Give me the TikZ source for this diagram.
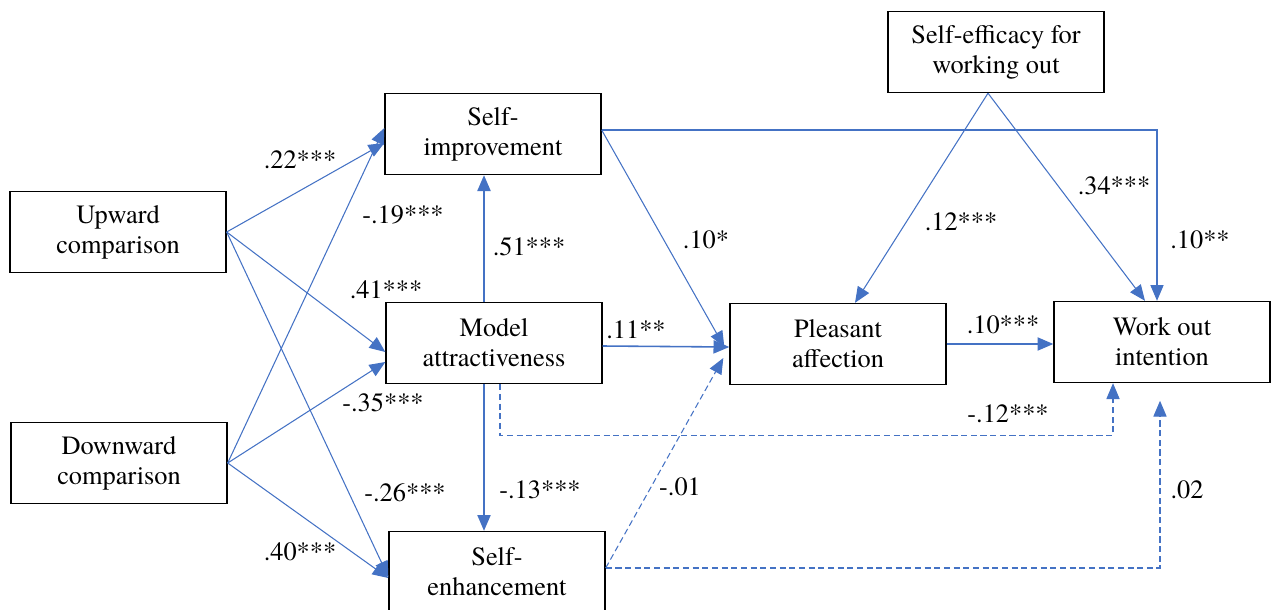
\documentclass[tikz,border=0pt]{standalone}
\usepackage{fontspec}
\setmainfont{TeX Gyre Termes}
\usetikzlibrary{arrows.meta,calc}
\definecolor{pathblue}{HTML}{4472C4}

\begin{document}
\begin{tikzpicture}[x=0.02cm,y=-0.02cm,
  font=\rmfamily\fontsize{15}{17}\selectfont,
  var node/.style={rectangle,draw,line width=0.8pt,minimum width=4.32cm,
    minimum height=1.62cm,align=center,inner sep=2pt},
  link/.style={draw=pathblue,line width=0.6pt,-{Triangle[length=9pt,width=7.5pt]}},
  weak link/.style={link,dash pattern=on 3.5pt off 2pt},
  coef/.style={inner sep=0pt}]

  \useasboundingbox (0,0) rectangle (1271,609);

  % variables
  \node[var node] (up) at (118,232) {Upward\\comparison};
  \node[var node] (down) at (119,463) {Downward\\comparison};
  \node[var node] (simp) at (493,134) {Self-\\improvement};
  \node[var node] (model) at (494,343) {Model\\attractiveness};
  \node[var node] (senh) at (497,572) {Self-\\enhancement};
  \node[var node] (pleas) at (838,344) {Pleasant\\affection};
  \node[var node] (work) at (1162,342) {Work out\\intention};
  \node[var node] (eff) at (996,52) {Self-efficacy for\\working out};

  % paths from the comparisons
  \draw[link] (up.east) -- ($(simp.west)+(0,9)$);
  \draw[link] (up.east) -- ($(model.west)+(0,9)$);
  \draw[link] (up.east) -- ($(senh.west)+(0,5)$);
  \draw[link] (down.east) -- ($(simp.west)+(0,-6)$);
  \draw[link] (down.east) -- ($(model.west)+(0,19)$);
  \draw[link] (down.east) -- ($(senh.west)+(0,6)$);

  % model attractiveness
  \coordinate (mtop) at ($(model.north)+(-10,0)$);
  \coordinate (mbot) at ($(model.south)+(-10,0)$);
  \draw[link,line width=0.9pt] (mtop) -- (mtop |- simp.south);
  \draw[link,line width=0.9pt] (mbot) -- (mbot |- senh.north);
  \draw[link,line width=0.9pt] ($(model.east)+(0,3)$) -- ($(pleas.west)+(0,3)$);
  \draw[weak link] ($(model.south)+(6,0)$) -- ++(0,51) -| ($(work.south)+(-49,0)$);

  % self-improvement and self-enhancement
  \draw[link] ($(simp.east)+(0,-4)$) -- ($(pleas.west)+(-5,3)$);
  \draw[link] ($(simp.east)+(0,-4)$) -| ($(work.north)+(-5,0)$);
  \draw[weak link] ($(senh.east)+(0,-4)$) -- ($(pleas.west)+(-6,14)$);
  \draw[weak link,shorten >=10pt] ($(senh.east)+(0,-4)$) -| ($(work.south)+(-2,0)$);

  % affection, self-efficacy
  \draw[link,line width=0.9pt] (pleas.east) -- (pleas.east -| work.west);
  \draw[link] ($(eff.south)+(-8,0)$) -- ($(pleas.north)+(17,0)$);
  \draw[link] ($(eff.south)+(-8,0)$) -- ($(work.north)+(-17,0)$);

  % coefficients
  \node[coef] (c22) at (300,160) {.22***};
  \node[coef] (c19) at (403,215) {-.19***};
  \node[coef] (c41) at (386,290) {.41***};
  \node[coef] (c51) at (529,247) {.51***};
  \node[coef] (c35) at (383,403) {-.35***};
  \node[coef] (c26) at (405,493) {-.26***};
  \node[coef] (c13) at (540,490) {-.13***};
  \node[coef] (c40) at (300,552) {.40***};
  \node[coef] (c10a) at (706,240) {.10*};
  \node[coef] (c12a) at (961,222) {.12***};
  \node[coef] (c34) at (1114,186) {.34***};
  \node[coef] (c10b) at (1200,240) {.10**};
  \node[coef] (c11) at (636,330) {.11**};
  \node[coef] (c10c) at (1003,325) {.10***};
  \node[coef] (c12b) at (1008,414) {-.12***};
  \node[coef] (c01) at (680,487) {-.01};
  \node[coef] (c02) at (1187,490) {.02};
\end{tikzpicture}
\end{document}
